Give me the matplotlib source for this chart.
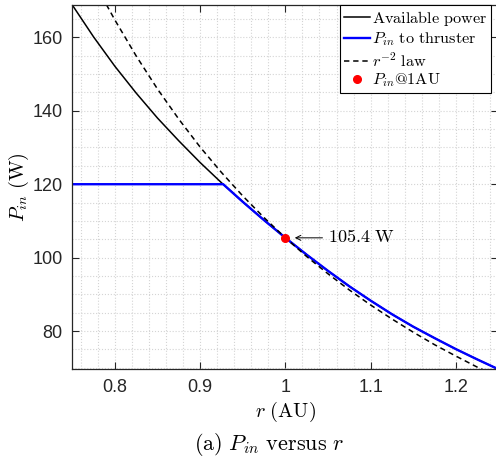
import numpy as np
import matplotlib
matplotlib.use("Agg")
from matplotlib import pyplot as plt
from matplotlib.ticker import MultipleLocator

plt.rcParams['mathtext.fontset'] = 'cm'
plt.rcParams['font.family'] = ['Liberation Sans', 'DejaVu Sans']

# available power
r_av = [0.75, 0.775, 0.80, 0.825, 0.85, 0.875, 0.90, 0.925, 0.95, 0.975,
        1.0, 1.025, 1.05, 1.075, 1.10, 1.125, 1.15, 1.175, 1.20, 1.225, 1.25]
p_av = [168.8, 160.1, 152.1, 144.8, 138.0, 131.8, 125.9, 120.4, 115.2, 110.2,
        105.4, 100.8, 96.4, 92.2, 88.3, 84.6, 81.2, 78.1, 75.1, 72.3, 69.6]

# power actually fed to the thruster (capped at 120 W)
r_pin = [0.75, 0.927, 0.95, 0.975, 1.0, 1.025, 1.05, 1.075, 1.10, 1.125,
         1.15, 1.175, 1.20, 1.225, 1.25]
p_pin = [120.0, 120.0, 115.2, 110.2, 105.4, 100.8, 96.4, 92.2, 88.3, 84.6,
         81.2, 78.1, 75.1, 72.3, 69.6]

# r^-2 reference
r_inv = [0.79, 0.80, 0.825, 0.85, 0.875, 0.90, 0.925, 0.95, 0.975, 1.0,
         1.025, 1.05, 1.075, 1.10, 1.125, 1.15, 1.175, 1.20, 1.225, 1.25]
p_inv = [168.9, 164.7, 154.9, 145.9, 137.7, 130.1, 123.2, 116.8, 110.9, 105.4,
         100.3, 95.6, 91.2, 87.1, 83.3, 79.7, 76.3, 73.2, 70.2, 67.5]

r_1au = 1.0
p_1au = 105.4

fig = plt.figure(figsize=(4.96, 4.63), dpi=100)
ax = fig.add_axes([72.3 / 496, 1 - 369.3 / 463, (498.5 - 72.3) / 496, (369.3 - 5) / 463])

ax.plot(r_av, p_av, color='black', lw=1.1, label=r'$\mathrm{Available\ power}$')
ax.plot(r_pin, p_pin, color='#0000ff', lw=1.7, label=r'$P_{in}\ \mathrm{to\ thruster}$')
ax.plot(r_inv, p_inv, color='black', lw=1.1, ls=(0, (3.5, 2.5)), label=r'$r^{-2}\ \mathrm{law}$')
ax.plot([r_1au], [p_1au], 'o', color='#ff0000', ms=5.5, lw=0, label=r'$P_{in}\mathrm{@1AU}$', zorder=5)

ax.annotate(r'$\mathrm{105.4\ W}$', xy=(1.011, p_1au), xytext=(1.05, p_1au),
            fontsize=13, va='center', ha='left',
            arrowprops=dict(arrowstyle='->', lw=0.7, color='black', shrinkA=2, shrinkB=0,
                            mutation_scale=9))

ax.set_xlim(0.75, 1.25)
ax.set_ylim(69.6, 168.8)
ax.yaxis.set_major_locator(MultipleLocator(20))
ax.xaxis.set_minor_locator(MultipleLocator(0.02))
ax.yaxis.set_minor_locator(MultipleLocator(5))
ax.set_xticks([0.8, 0.9, 1.0, 1.1, 1.2])
ax.set_xticklabels(['0.8', '0.9', '1', '1.1', '1.2'])

ax.grid(which='both', color='#d4d4d4', ls=':', lw=0.8)
ax.set_axisbelow(True)
ax.tick_params(which='major', direction='in', length=5, width=0.8, top=True, right=True,
               labelsize=13, colors='#262626', pad=7)
ax.tick_params(which='minor', length=0)
for s in ax.spines.values():
    s.set_color('#262626')
    s.set_linewidth(0.9)

ax.set_xlabel(r'$r\ \mathrm{(AU)}$', fontsize=14.5)
ax.set_ylabel(r'$P_{in}\ \mathrm{(W)}$', fontsize=14.5)
ax.xaxis.set_label_coords((285.4 - 72.3) / 426.2, (369.3 - 400) / 364.3)
ax.yaxis.set_label_coords((31 - 72.3) / 426.2, 0.5)

leg = ax.legend(loc='upper right', bbox_to_anchor=(491 / 496, 1 - 5 / 463),
                bbox_transform=fig.transFigure, borderaxespad=0, fontsize=11.7,
                fancybox=False, framealpha=1, edgecolor='black', handlelength=1.6,
                handletextpad=0.1, labelspacing=0.15, borderpad=0.25, numpoints=1)
leg.get_frame().set_linewidth(0.8)

fig.text(269 / 496, 1 - 444 / 463, r'$\mathrm{(a)}\ P_{in}\ \mathrm{versus}\ r$',
         fontsize=16, ha='center', va='center')

fig.savefig('out.png', dpi=100)
